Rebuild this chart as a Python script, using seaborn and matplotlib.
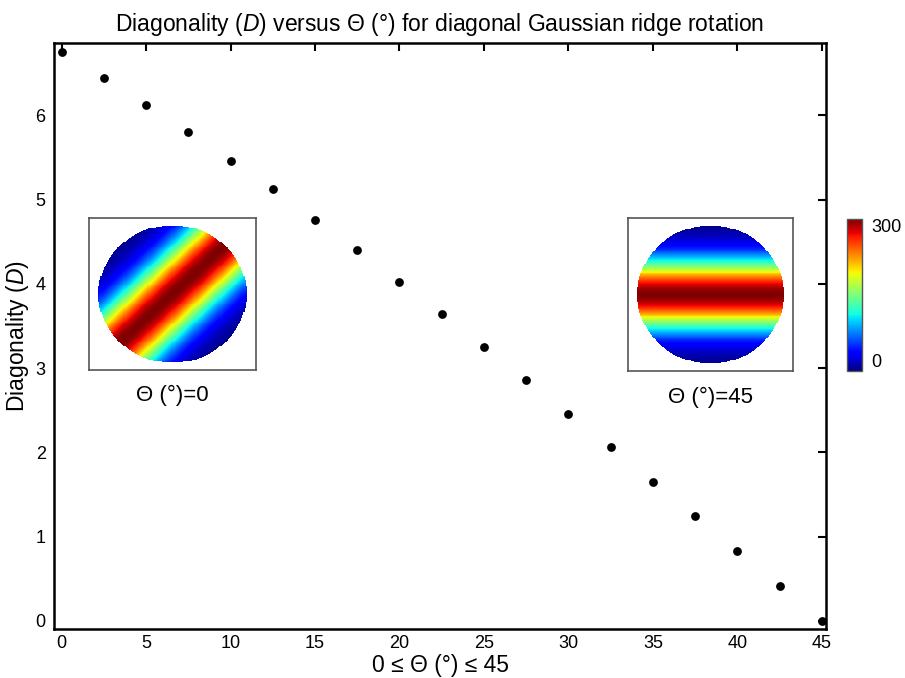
import numpy as np
import pandas as pd
import matplotlib
matplotlib.use("Agg")
import matplotlib.pyplot as plt
import seaborn as sns

# ---- data ----
theta_deg = [0, 2.5, 5, 7.5, 10, 12.5, 15, 17.5, 20, 22.5, 25, 27.5, 30, 32.5, 35, 37.5, 40, 42.5, 45]
diagonality = [6.75, 6.44, 6.13, 5.80, 5.46, 5.13, 4.76, 4.40, 4.02, 3.64, 3.25, 2.86, 2.46, 2.06, 1.65, 1.25, 0.83, 0.42, 0.00]
x_ticks = [0, 5, 10, 15, 20, 25, 30, 35, 40, 45]
y_ticks = [0, 1, 2, 3, 4, 5, 6]
inset_labels = ["Θ (°)=0", "Θ (°)=45"]
inset_ridge_angles = [45, 0]      # ridge orientation in the inset pictures (deg)
cbar_range = [0, 300]

sns.set_theme(style="white")
plt.rcParams["font.family"] = ["Liberation Sans", "DejaVu Sans"]
plt.rcParams["mathtext.fontset"] = "custom"
plt.rcParams["mathtext.it"] = "Liberation Sans:italic"
plt.rcParams["mathtext.rm"] = "Liberation Sans"
plt.rcParams["text.color"] = "black"
plt.rcParams["axes.labelcolor"] = "black"
plt.rcParams["axes.titlecolor"] = "black"

fig = plt.figure(figsize=(9.05, 6.78), dpi=100)
ax = fig.add_axes([54/905, 1-629/678, (826-54)/905, (629-43)/678])

df = pd.DataFrame({"theta": theta_deg, "D": diagonality})
sns.scatterplot(data=df, x="theta", y="D", ax=ax, color="black", s=40,
                edgecolor="black", linewidth=0, zorder=5, legend=False)

ax.set_xlim(-0.45, 45.25)
ax.set_ylim(-0.095, 6.86)
ax.set_xticks(x_ticks)
ax.set_yticks(y_ticks)
ax.tick_params(direction="in", length=6, width=1.5, top=True, right=True,
               labelsize=13, colors="black")
ax.tick_params(axis="x", pad=4)
ax.tick_params(axis="y", pad=6)
for sp in ax.spines.values():
    sp.set_visible(True)
    sp.set_color("black")
    sp.set_linewidth(1.8)

ax.set_xlabel("0 ≤ Θ (°) ≤ 45", fontsize=16.5, labelpad=2)
ax.set_ylabel("Diagonality ($D$)", fontsize=16.5, labelpad=3)
ax.set_title("Diagonality ($D$) versus Θ (°) for diagonal Gaussian ridge rotation",
             fontsize=16.5, pad=9)

# ---- inset pictures of the Gaussian ridge on a disk ----
n = 160
ext_x = 1.12
ext_y = 1.10
gx = np.linspace(-ext_x, ext_x, n)
gy = np.linspace(-ext_y, ext_y, n)
X, Y = np.meshgrid(gx, gy)
mask = X**2 + Y**2 <= 1.0
sigma = 0.35

inset_boxes = [[89/905, 1-370/678, 167/905, 152/678],
               [628/905, 1-371/678, 165/905, 153/678]]
im = None
for box, ang, lab in zip(inset_boxes, inset_ridge_angles, inset_labels):
    iax = fig.add_axes(box)
    a = np.deg2rad(ang)
    d = -X*np.sin(a) + Y*np.cos(a)
    Z = cbar_range[1]*np.exp(-d**2/(2*sigma**2))
    Z = np.where(mask, Z, np.nan)
    im = iax.imshow(Z, cmap="jet", vmin=cbar_range[0], vmax=cbar_range[1],
                    origin="lower", aspect="auto", extent=[-ext_x, ext_x, -ext_y, ext_y],
                    interpolation="nearest")
    iax.set_xticks([])
    iax.set_yticks([])
    for sp in iax.spines.values():
        sp.set_visible(True)
        sp.set_color("#555555")
        sp.set_linewidth(1.2)
    iax.text(0.5, -0.17, lab, transform=iax.transAxes, ha="center", va="center",
             fontsize=16, color="black")

cax = fig.add_axes([847/905, 1-371/678, 15/905, 152/678])
cb = fig.colorbar(im, cax=cax, ticks=cbar_range)
cb.outline.set_edgecolor("#555555")
cb.outline.set_linewidth(1)
cax.tick_params(length=0, labelsize=13, pad=7, colors="black")
cax.set_yticklabels([str(v) for v in cbar_range])
tl = cax.get_yticklabels()
tl[0].set_verticalalignment("bottom")
tl[-1].set_verticalalignment("top")

fig.savefig("out.png", dpi=100)
